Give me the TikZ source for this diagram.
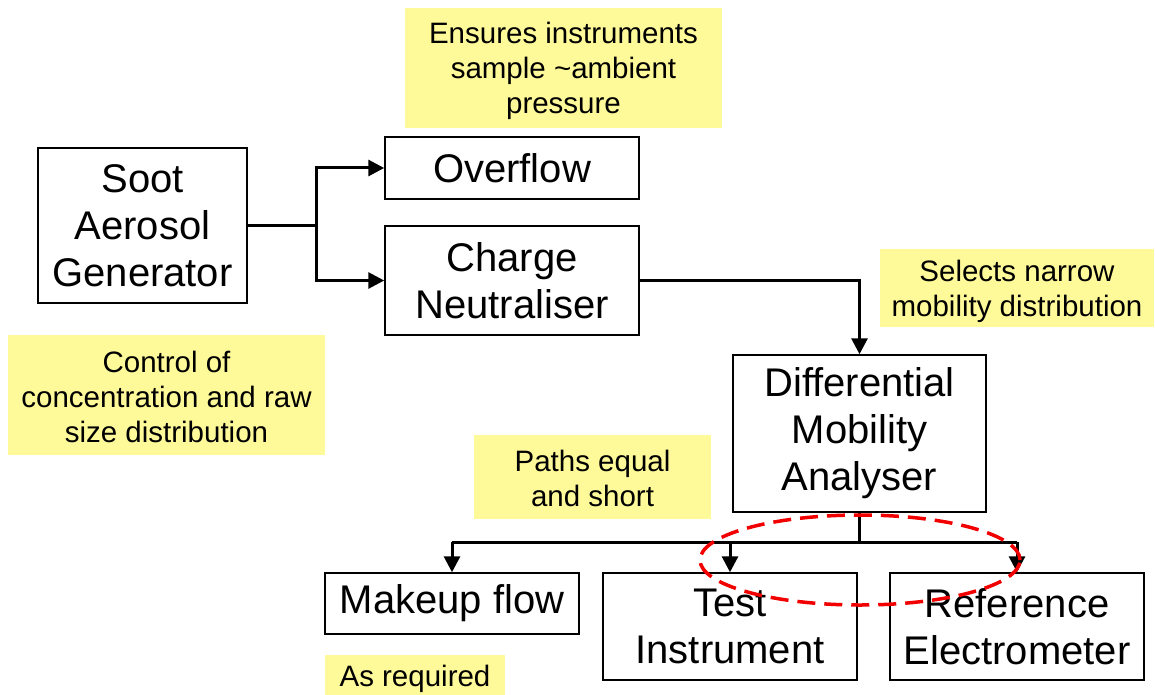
\documentclass[tikz,border=0pt]{standalone}
\usepackage{fontspec}
\setmainfont{Liberation Sans}
\usetikzlibrary{arrows.meta,shapes.geometric}
\begin{document}
\begin{tikzpicture}[x=1pt,y=-1pt,
  box/.style={draw=black,line width=1.5pt,fill=white,minimum width=#1,inner sep=0pt,align=center,font=\fontsize{40}{47}\selectfont},
  notebg/.style={fill=yellow!40},
  note/.style={inner sep=0pt,align=center,font=\fontsize{29.5}{35}\selectfont},
  arr/.style={line width=3pt,-{Triangle[length=16pt,width=16pt]}},
  ln/.style={line width=3pt}]
\useasboundingbox (0,0) rectangle (1155,695);
\fill[white] (0,0) rectangle (1155,695);
% notes
\fill[notebg] (405,8) rectangle (722,128);
\node[note] (n1) at (563.5,71) {Ensures instruments\\sample \textasciitilde ambient\\pressure};
\fill[notebg] (880,249) rectangle (1154,327);
\node[note] (n2) at (1017,291) {Selects narrow\\mobility distribution};
\fill[notebg] (8,335) rectangle (325,455);
\node[note] (n3) at (166.5,397) {Control of\\concentration and raw\\size distribution};
\fill[notebg] (474,435) rectangle (711,519);
\node[note] (n4) at (592.5,478) {Paths equal\\and short};
\fill[notebg] (325,655) rectangle (505,695);
\node[note] (n5) at (415,679) {As required};
% boxes
\node[box=209pt,minimum height=155pt] (soot) at (142.5,225.5) {Soot\\Aerosol\\Generator};
\node[box=254pt,minimum height=62pt] (over) at (512,168) {Overflow};
\node[box=254pt,minimum height=109pt] (charge) at (512,280.5) {Charge\\Neutraliser};
\node[box=253pt,minimum height=157pt] (dma) at (859.5,433.5) {Differential\\Mobility\\Analyser};
\node[box=254pt,minimum height=61pt] (make) at (452,603.5) {Makeup flow};
\node[box=254pt,minimum height=107pt] (test) at (730,626.5) {Test\\Instrument};
\node[box=254pt,minimum height=107pt] (ref) at (1017,626.5) {Reference\\Electrometer};
% connectors
\coordinate (j) at (316,225.5);
\draw[ln] (soot.east) -- (j);
\draw[arr] (j) |- (over.west);
\draw[arr] (j) |- (charge.west);
\draw[arr] (charge.east) -| (dma.north);
\coordinate (bus) at (859.5,542);
\draw[ln] (dma.south) -- (bus);
\draw[ln] (make.north |- bus) -- (ref.north |- bus);
\draw[arr] (make.north |- bus) -- (make.north);
\draw[arr] (test.north |- bus) -- (test.north);
\draw[arr] (ref.north |- bus) -- (ref.north);
% ellipse
\node[draw=red!95!black,line width=3.5pt,dash pattern=on 18pt off 9pt,ellipse,minimum width=320pt,minimum height=90pt,inner sep=0pt] (ell) at (860,560) {};
\end{tikzpicture}
\end{document}
